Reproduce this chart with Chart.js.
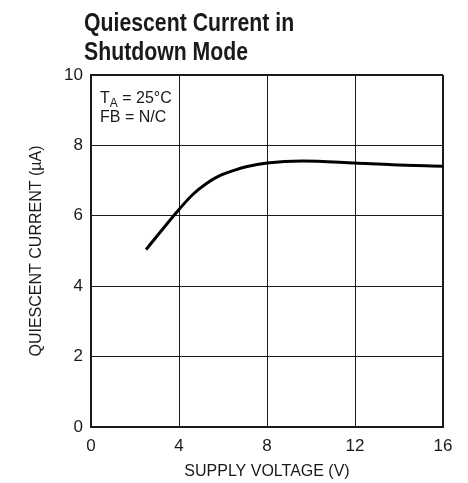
<!DOCTYPE html>
<html>
<head>
<meta charset="utf-8">
<script src="https://cdn.jsdelivr.net/npm/chart.js@4/dist/chart.umd.min.js"></script>
<style>
  html, body { margin: 0; padding: 0; background: #fff; }
  #wrap { width: 468px; height: 483px; }
</style>
</head>
<body>
<div id="wrap"><canvas id="chart" width="468" height="483"></canvas></div>
<script>
// Data
const supplyVoltage = [2.5, 3.15, 4, 4.65, 5.25, 5.85, 6.5, 7.1, 8, 9.6, 12, 13.7, 16];
const quiescentCurrent = [5.04, 5.54, 6.18, 6.62, 6.92, 7.14, 7.29, 7.4, 7.5, 7.56, 7.5, 7.45, 7.41];
const xTicks = [0, 4, 8, 12, 16];
const yTicks = [0, 2, 4, 6, 8, 10];
const titleLines = ['Quiescent Current in', 'Shutdown Mode'];

const FONT = "'Liberation Sans Narrow', 'Arial Narrow', 'Liberation Sans', sans-serif";
const INK = '#1a1a1a';

// Title and the condition note inside the plot
const textPlugin = {
    id: 'textPlugin',
    afterDraw(chart) {
        const ctx = chart.ctx;
        const area = chart.chartArea;
        ctx.save();
        ctx.fillStyle = INK;
        ctx.textBaseline = 'alphabetic';
        ctx.textAlign = 'left';

        // condensed look for the title
        ctx.save();
        ctx.translate(84, 0);
        ctx.scale(0.85, 1);
        ctx.font = 'bold 25px ' + FONT;
        ctx.fillText(titleLines[0], 0, 31);
        ctx.fillText(titleLines[1], 0, 60);
        ctx.restore();

        // T_A = 25°C
        let x = area.left + 9;
        ctx.font = '16px ' + FONT;
        ctx.fillText('T', x, 103);
        x += ctx.measureText('T').width;
        ctx.font = '12px ' + FONT;
        ctx.fillText('A', x, 107);
        x += ctx.measureText('A').width;
        ctx.font = '16px ' + FONT;
        ctx.fillText(' = 25\u00B0C', x, 103);
        ctx.fillText('FB = N/C', area.left + 9, 122);
        ctx.restore();
    }
};

const gridWidth = (ctx, lo, hi) => {
    const v = ctx.tick ? ctx.tick.value : null;
    return (v === lo || v === hi) ? 2 : 1;
};

new Chart(document.getElementById('chart').getContext('2d'), {
    type: 'line',
    data: {
        datasets: [{
            data: supplyVoltage.map((v, i) => ({ x: v, y: quiescentCurrent[i] })),
            borderColor: '#000',
            borderWidth: 3,
            pointRadius: 0,
            fill: false,
            cubicInterpolationMode: 'monotone'
        }]
    },
    options: {
        responsive: false,
        animation: false,
        layout: { padding: { top: 75, right: 25, left: 0, bottom: 0 } },
        plugins: {
            legend: { display: false },
            tooltip: { enabled: false }
        },
        scales: {
            x: {
                type: 'linear',
                min: 0,
                max: 16,
                afterBuildTicks: s => { s.ticks = xTicks.map(v => ({ value: v })); },
                afterFit: s => { s.height = 56; },
                grid: { color: INK, lineWidth: c => gridWidth(c, 0, 16), drawTicks: false },
                border: { color: INK, width: 2 },
                ticks: { color: INK, padding: 9, font: { family: FONT, size: 17 } },
                title: {
                    display: true,
                    text: 'SUPPLY VOLTAGE (V)',
                    color: INK,
                    font: { family: FONT, size: 16 },
                    padding: { top: 0, bottom: 2 }
                }
            },
            y: {
                min: 0,
                max: 10,
                afterBuildTicks: s => { s.ticks = yTicks.map(v => ({ value: v })); },
                afterFit: s => { s.width = 91; },
                grid: { color: INK, lineWidth: c => gridWidth(c, 0, 10), drawTicks: false },
                border: { color: INK, width: 2 },
                ticks: { color: INK, padding: 8, font: { family: FONT, size: 17 } },
                title: {
                    display: true,
                    text: 'QUIESCENT CURRENT (\u00B5A)',
                    color: INK,
                    font: { family: FONT, size: 16 },
                    padding: { top: 27, bottom: 0 }
                }
            }
        }
    },
    plugins: [textPlugin]
});
</script>
</body>
</html>
